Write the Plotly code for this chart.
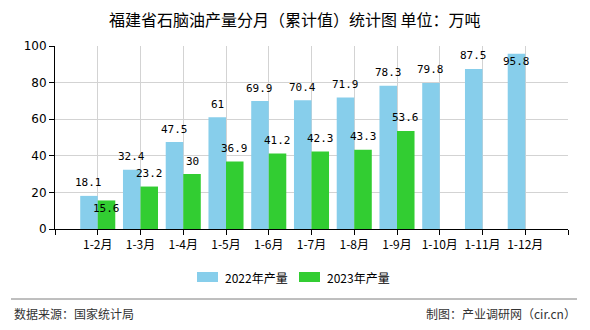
import plotly.graph_objects as go

categories = ["1-2月", "1-3月", "1-4月", "1-5月", "1-6月", "1-7月", "1-8月", "1-9月", "1-10月", "1-11月", "1-12月"]
values_2022 = [18.1, 32.4, 47.5, 61, 69.9, 70.4, 71.9, 78.3, 79.8, 87.5, 95.8]
values_2023 = [15.6, 23.2, 30, 36.9, 41.2, 42.3, 43.3, 53.6]
series_names = ["2022年产量", "2023年产量"]
y_ticks = [0, 20, 40, 60, 80, 100]

BLUE = "#87CEEB"
GREEN = "#32CD32"
W, H = 590, 330
L, R, T, B = 55, 22, 46, 101
PW, PH = W - L - R, H - T - B
BW = 0.41

fig = go.Figure()
x22 = list(range(len(values_2022)))
x23 = list(range(len(values_2023)))
fig.add_trace(go.Bar(x=x22, y=values_2022, offset=-BW, width=BW, marker=dict(color=BLUE, line=dict(width=0)),
                     name=series_names[0], showlegend=False))
fig.add_trace(go.Bar(x=x23, y=values_2023, offset=0, width=BW, marker=dict(color=GREEN, line=dict(width=0)),
                     name=series_names[1], showlegend=False))

annotations = []
label_font = dict(family="DejaVu Sans Mono, Liberation Mono, monospace", size=11, color="#000")
# labels pushed inside the bar (collision / top clipping)
inside_2022 = {10}
inside_2023 = {0}

def fmt(v):
    return ("%g" % v)

for i, v in enumerate(values_2022):
    annotations.append(dict(x=i - BW / 2, y=v, xref="x", yref="y", text=fmt(v), showarrow=False,
                            yanchor="middle", yshift=(-8 if i in inside_2022 else 13), font=label_font))
for i, v in enumerate(values_2023):
    annotations.append(dict(x=i + BW / 2, y=v, xref="x", yref="y", text=fmt(v), showarrow=False,
                            yanchor="middle", yshift=(-8 if i in inside_2023 else 13), font=label_font))

# title
annotations.append(dict(x=(W / 2 - L) / PW, y=1 + (T - 19) / PH, xref="paper", yref="paper",
                        text="福建省石脑油产量分月（累计值）统计图 单位：万吨", showarrow=False,
                        xanchor="center", yanchor="middle",
                        font=dict(family="Noto Sans CJK SC", size=16, color="#000")))

# custom legend
shapes = []
leg_y = 277
legend_items = [(197, BLUE, series_names[0]), (299, GREEN, series_names[1])]
for x0, col, name in legend_items:
    shapes.append(dict(type="rect", xref="paper", yref="paper",
                       x0=(x0 - L) / PW, x1=(x0 + 21 - L) / PW,
                       y0=(H - B - (leg_y + 5)) / PH, y1=(H - B - (leg_y - 5)) / PH,
                       fillcolor=col, line=dict(width=0)))
    annotations.append(dict(x=(x0 + 26 - L) / PW, y=(H - B - leg_y) / PH, xref="paper", yref="paper",
                            text=name, showarrow=False, xanchor="left", yanchor="middle",
                            font=dict(family="Noto Sans CJK SC", size=12, color="#000")))

# footer
shapes.append(dict(type="line", xref="paper", yref="paper", x0=(11 - L) / PW, x1=(577 - L) / PW,
                   y0=(H - B - 299) / PH, y1=(H - B - 299) / PH, line=dict(color="#7f7f7f", width=1)))
annotations.append(dict(x=(12 - L) / PW, y=(H - B - 313) / PH, xref="paper", yref="paper",
                        text="数据来源：国家统计局", showarrow=False, xanchor="left", yanchor="middle",
                        font=dict(family="Noto Sans CJK SC", size=12, color="#333")))
annotations.append(dict(x=(578 - L) / PW, y=(H - B - 313) / PH, xref="paper", yref="paper",
                        text="制图：产业调研网（cir.cn）", showarrow=False, xanchor="right", yanchor="middle",
                        font=dict(family="Noto Sans CJK SC", size=12, color="#333")))

fig.update_layout(
    width=W, height=H, margin=dict(l=L, r=R, t=T, b=B, pad=0),
    paper_bgcolor="white", plot_bgcolor="white",
    barmode="overlay", showlegend=False,
    annotations=annotations, shapes=shapes,
    font=dict(family="Noto Sans CJK SC", size=12, color="#000"),
)
fig.update_xaxes(range=[-1, len(categories)], tickmode="array",
                 tickvals=list(range(-1, len(categories) + 1)),
                 ticktext=[""] + categories + [""],
                 showgrid=True, gridcolor="#d3d3d3", gridwidth=1,
                 showline=True, linecolor="#000", linewidth=1,
                 ticks="outside", ticklen=5, tickcolor="#000", zeroline=False,
                 tickfont=dict(family="Noto Sans CJK SC", size=12, color="#000"))
fig.update_yaxes(range=[0, 100], tickmode="array", tickvals=y_ticks,
                 showgrid=True, gridcolor="#d3d3d3", gridwidth=1,
                 showline=True, linecolor="#000", linewidth=1,
                 ticks="outside", ticklen=5, tickcolor="#000", zeroline=False,
                 tickfont=dict(family="DejaVu Sans", size=12, color="#000"))

fig.write_html("out.html")
